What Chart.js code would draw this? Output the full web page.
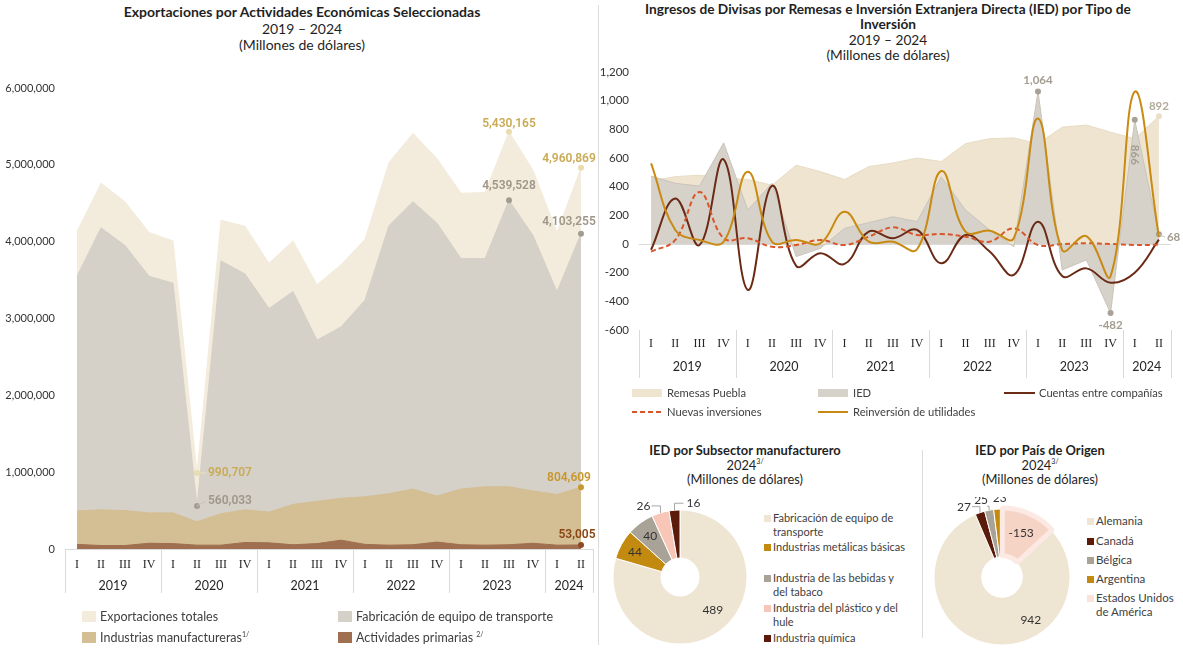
<!DOCTYPE html>
<html lang="es">
<head>
<meta charset="utf-8">
<title>Exportaciones, remesas e IED</title>
<script src="https://cdn.jsdelivr.net/npm/chart.js@4.4.1/dist/chart.umd.min.js"></script>
<style>
  html, body { margin: 0; padding: 0; background: #fff; }
  body { position: relative; width: 1183px; height: 648px; overflow: hidden; font-family: Lato, 'Open Sans', sans-serif; color: #1f1f1f; }
  canvas { position: absolute; }
  .title { position: absolute; text-align: center; font-size: 14px; line-height: 16.5px; }
  .title.small { font-size: 12.9px; line-height: 14.5px; }
  .title sup, .leg sup { font-size: 7px; line-height: 7px; vertical-align: top; position: relative; top: 0px; }
  .leg { position: absolute; font-size: 12.5px; line-height: 14px; color: #404040; white-space: nowrap; }
  .leg.s { font-size: 11.2px; line-height: 13.5px; }
  .leg.d { font-size: 11px; line-height: 13.5px; }
  .leg.p { font-size: 11.5px; line-height: 14px; }
  .sw { display: inline-block; vertical-align: middle; position: relative; top: -1px; }
  .vline { position: absolute; width: 1px; background: #dcdcdc; }
</style>
</head>
<body>

<div class="title" style="left:0;top:4px;width:604px;"><b>Exportaciones por Actividades Económicas Seleccionadas</b><br>2019 – 2024<br>(Millones de dólares)</div>
<div class="title" style="left:598px;top:1px;width:580px;line-height:15.3px;font-size:13.7px;"><b>Ingresos de Divisas por Remesas e Inversión Extranjera Directa (IED) por Tipo de<br>Inversión</b><br>2019 – 2024<br>(Millones de dólares)</div>
<div class="title small" style="left:600px;top:443px;width:290px;"><b>IED por Subsector manufacturero</b><br>2024<sup>3/</sup><br>(Millones de dólares)</div>
<div class="title small" style="left:925px;top:443px;width:230px;"><b>IED por País de Origen</b><br>2024<sup>3/</sup><br>(Millones de dólares)</div>

<div class="vline" style="left:598px;top:5px;height:640px;"></div>
<div class="vline" style="left:922px;top:450px;height:188px;"></div>

<canvas id="expChart" width="598" height="648" style="left:0;top:0;"></canvas>
<canvas id="divChart" width="585" height="440" style="left:598px;top:0;"></canvas>
<canvas id="subChart" width="160" height="151" style="left:600px;top:497px;"></canvas>
<canvas id="paisChart" width="160" height="151" style="left:922px;top:497px;"></canvas>

<!-- leyenda exportaciones -->
<div class="leg" style="left:82px;top:610px;"><span class="sw" style="width:14px;height:11px;background:#f3ebdc;margin-right:4px"></span>Exportaciones totales</div>
<div class="leg" style="left:338px;top:610px;"><span class="sw" style="width:14px;height:11px;background:#d5d1c8;margin-right:4px"></span>Fabricación de equipo de transporte</div>
<div class="leg" style="left:82px;top:631px;"><span class="sw" style="width:14px;height:11px;background:#d4be94;margin-right:4px"></span>Industrias manufactureras<sup>1/</sup></div>
<div class="leg" style="left:338px;top:631px;"><span class="sw" style="width:14px;height:11px;background:#a06f50;margin-right:4px"></span>Actividades primarias <sup>2/</sup></div>

<!-- leyenda divisas -->
<div class="leg s" style="left:632px;top:386px;"><span class="sw" style="width:30px;height:8px;background:#efe4cf;margin-right:5px"></span>Remesas Puebla</div>
<div class="leg s" style="left:818px;top:386px;"><span class="sw" style="width:30px;height:8px;background:#d6d2ca;margin-right:5px"></span>IED</div>
<div class="leg s" style="left:1004px;top:386px;"><span class="sw" style="width:31px;height:2px;background:#6b2a15;margin-right:4px"></span>Cuentas entre compañías</div>
<div class="leg s" style="left:632px;top:405px;"><span class="sw" style="width:30px;height:2px;background:repeating-linear-gradient(90deg,#d9562a 0 5px,transparent 5px 8px);margin-right:5px"></span>Nuevas inversiones</div>
<div class="leg s" style="left:818px;top:405px;"><span class="sw" style="width:30px;height:2px;background:#c88a12;margin-right:5px"></span>Reinversión de utilidades</div>

<!-- leyenda subsector -->
<div class="leg d" style="left:764px;top:511px;"><span class="sw" style="width:7px;height:7px;background:#efe5d3;margin-right:2px"></span>Fabricación de equipo de<br><span style="margin-left:9px">transporte</span></div>
<div class="leg d" style="left:764px;top:540px;"><span class="sw" style="width:7px;height:7px;background:#c38a10;margin-right:2px"></span>Industrias metálicas básicas</div>
<div class="leg d" style="left:764px;top:571px;"><span class="sw" style="width:7px;height:7px;background:#a9a296;margin-right:2px"></span>Industria de las bebidas y<br><span style="margin-left:9px">del tabaco</span></div>
<div class="leg d" style="left:764px;top:601px;"><span class="sw" style="width:7px;height:7px;background:#f8c6b7;margin-right:2px"></span>Industria del plástico y del<br><span style="margin-left:9px">hule</span></div>
<div class="leg d" style="left:764px;top:631px;"><span class="sw" style="width:7px;height:7px;background:#5b1a0a;margin-right:2px"></span>Industria química</div>

<!-- leyenda país -->
<div class="leg p" style="left:1087px;top:514px;"><span class="sw" style="width:7px;height:7px;background:#efe5d3;margin-right:2px"></span>Alemania</div>
<div class="leg p" style="left:1087px;top:534px;"><span class="sw" style="width:7px;height:7px;background:#5b1a0a;margin-right:2px"></span>Canadá</div>
<div class="leg p" style="left:1087px;top:553px;"><span class="sw" style="width:7px;height:7px;background:#a9a296;margin-right:2px"></span>Bélgica</div>
<div class="leg p" style="left:1087px;top:572px;"><span class="sw" style="width:7px;height:7px;background:#c38a10;margin-right:2px"></span>Argentina</div>
<div class="leg p" style="left:1087px;top:591px;"><span class="sw" style="width:7px;height:7px;background:#fbe3dc;margin-right:2px"></span>Estados Unidos<br><span style="margin-left:9px">de América</span></div>

<script>
// trimestres 2019-I a 2024-II
const quarters = ['I','II','III','IV','I','II','III','IV','I','II','III','IV','I','II','III','IV','I','II','III','IV','I','II'];
const years = ['2019','2020','2021','2022','2023','2024'];
const quartersPerYear = [4, 4, 4, 4, 4, 2];

// exportaciones (miles de dólares, como en la fuente)
const exportTotal = [4130000, 4760000, 4520000, 4120000, 4010000, 990707, 4280000, 4200000, 3720000, 4010000, 3440000, 3700000, 4030000, 5030000, 5410000, 5080000, 4630000, 4640000, 5430165, 4930000, 4120000, 4960869];
const exportTransport = [3550000, 4180000, 3950000, 3550000, 3460000, 560033, 3750000, 3580000, 3130000, 3350000, 2720000, 2890000, 3240000, 4210000, 4520000, 4240000, 3780000, 3780000, 4539528, 4080000, 3350000, 4103255];
const exportManuf = [495000, 510000, 500000, 470000, 470000, 355000, 460000, 510000, 480000, 580000, 620000, 660000, 680000, 720000, 780000, 690000, 780000, 810000, 810000, 755000, 710000, 804609];
const exportPrimary = [60000, 45000, 45000, 75000, 70000, 50000, 50000, 85000, 80000, 55000, 70000, 115000, 60000, 50000, 55000, 90000, 55000, 50000, 55000, 75000, 50000, 53005];

// remesas e IED (millones de dólares)
const remesas = [440, 470, 480, 460, 450, 410, 550, 505, 450, 540, 565, 600, 575, 700, 735, 740, 700, 815, 830, 780, 735, 892];
const ied = [474, 423, 404, 706, 237, 423, -88, -30, 109, 149, 190, 156, 469, 237, 98, -19, 1064, -181, -111, -482, 866, 68];
const cuentas = [-40, 318, -7, 590, -320, 406, -153, -65, -139, 86, 40, 98, -135, 63, -53, -216, 156, -223, -170, -270, -200, 30];
const nuevas = [-53, 28, 362, 40, 40, -19, -7, 28, -7, 51, 116, 63, 70, 51, 16, 109, -7, 0, 5, 0, -7, -5];
const reinversion = [562, 98, 28, 16, 504, 16, 28, 5, 225, 16, 16, -37, 509, 86, 93, 40, 876, -42, 55, -225, 1062, 50];

// IED 2024
const subsectorLabels = ['Fabricación de equipo de transporte', 'Industrias metálicas básicas', 'Industria de las bebidas y del tabaco', 'Industria del plástico y del hule', 'Industria química'];
const subsectorValues = [489, 44, 40, 26, 16];
const paisLabels = ['Alemania', 'Canadá', 'Bélgica', 'Argentina', 'Estados Unidos de América'];
const paisValues = [942, 27, 25, 23, -153];

Chart.defaults.font.family = 'Lato, "Open Sans", sans-serif';
Chart.defaults.color = '#404040';
Chart.defaults.animation = false;

const fmt = v => Number(v).toLocaleString('en-US');

// eje de trimestres con años agrupados
const quarterAxis = {
  id: 'quarterAxis',
  afterDraw(chart, args, opts) {
    const { ctx, chartArea: a, scales: { x } } = chart;
    const half = (x.getPixelForValue(1) - x.getPixelForValue(0)) / 2;
    const sep = px => {
      const p = Math.round(px) + 0.5;
      ctx.beginPath(); ctx.moveTo(p, a.bottom); ctx.lineTo(p, a.bottom + opts.sepLength); ctx.stroke();
    };
    ctx.save();
    ctx.strokeStyle = '#d9d9d9';
    ctx.lineWidth = 1;
    if (opts.axisLine) {
      ctx.beginPath(); ctx.moveTo(a.left, Math.round(a.bottom) + 0.5); ctx.lineTo(a.right, Math.round(a.bottom) + 0.5); ctx.stroke();
    }
    ctx.fillStyle = '#262626';
    ctx.textAlign = 'center';
    ctx.textBaseline = 'middle';
    ctx.font = '12px "Liberation Serif", serif';
    quarters.forEach((q, i) => ctx.fillText(q, x.getPixelForValue(i), a.bottom + opts.quarterGap));
    ctx.font = '12.5px Lato, sans-serif';
    sep(x.getPixelForValue(0) - half);
    let start = 0;
    years.forEach((yr, k) => {
      const n = quartersPerYear[k];
      const x0 = x.getPixelForValue(start) - half;
      const x1 = x.getPixelForValue(start + n - 1) + half;
      ctx.fillText(yr, (x0 + x1) / 2, a.bottom + opts.yearGap);
      sep(x1);
      start += n;
    });
    ctx.restore();
  }
};

// etiquetas de valores sobre puntos
const pointLabels = {
  id: 'pointLabels',
  afterDatasetsDraw(chart, args, opts) {
    const { ctx } = chart;
    ctx.save();
    ctx.font = opts.font;
    ctx.textBaseline = 'middle';
    (opts.items || []).forEach(it => {
      const pt = chart.getDatasetMeta(it.ds).data[it.i];
      const text = fmt(chart.data.datasets[it.ds].data[it.i]);
      const tx = pt.x + (it.dx || 0), ty = pt.y + (it.dy || 0);
      ctx.fillStyle = it.color;
      if (it.leader) {
        ctx.strokeStyle = it.leaderColor || it.color;
        ctx.lineWidth = 1;
        ctx.beginPath(); ctx.moveTo(pt.x, pt.y); ctx.lineTo(tx - 2, ty); ctx.stroke();
      }
      ctx.textAlign = it.align || 'center';
      if (it.rotate) {
        ctx.translate(tx, ty); ctx.rotate(it.rotate);
        ctx.fillText(text, 0, 0);
        ctx.setTransform(1, 0, 0, 1, 0, 0);
      } else {
        ctx.fillText(text, tx, ty);
      }
    });
    ctx.restore();
  }
};

// etiquetas de las donas
const donutLabels = {
  id: 'donutLabels',
  afterDatasetsDraw(chart, args, opts) {
    const { ctx } = chart;
    const values = chart.data.datasets[0].data;
    ctx.save();
    ctx.font = '12px Lato, sans-serif';
    ctx.fillStyle = '#333';
    ctx.textAlign = 'center';
    ctx.textBaseline = 'middle';
    chart.getDatasetMeta(0).data.forEach((arc, i) => {
      const mid = (arc.startAngle + arc.endAngle) / 2;
      const inn = (opts.inside || {})[i];
      const out = (opts.outside || {})[i];
      if (inn) {
        const r = arc.innerRadius + (arc.outerRadius - arc.innerRadius) * inn.f;
        ctx.fillText(String(values[i]), arc.x + Math.cos(mid) * r + (inn.dx || 0), arc.y + Math.sin(mid) * r + (inn.dy || 0));
      } else if (out) {
        const px = arc.x + Math.cos(mid) * arc.outerRadius;
        const py = arc.y + Math.sin(mid) * arc.outerRadius;
        const ey = py - out.up, ex = px + out.side;
        if (out.up || out.side) {
          ctx.strokeStyle = '#a6a6a6';
          ctx.lineWidth = 1;
          ctx.beginPath(); ctx.moveTo(px, py); ctx.lineTo(px, ey); ctx.lineTo(ex, ey); ctx.stroke();
        }
        ctx.fillText(String(values[i]), ex + out.tx, ey + (out.ty || 0));
      }
    });
    ctx.restore();
  }
};

const marks = idx => ctx => idx.includes(ctx.dataIndex) ? 3 : 0;

new Chart(document.getElementById('expChart'), {
  type: 'line',
  data: {
    labels: quarters,
    datasets: [
      { label: 'Exportaciones totales', data: exportTotal, fill: 'origin', backgroundColor: '#f3ebdc', borderColor: '#f3ebdc', borderWidth: 1, tension: 0, order: 4, pointRadius: marks([5, 18, 21]), pointBackgroundColor: '#e9dcae', pointBorderWidth: 0 },
      { label: 'Fabricación de equipo de transporte', data: exportTransport, fill: 'origin', backgroundColor: '#d5d1c8', borderColor: '#d5d1c8', borderWidth: 1, tension: 0, order: 3, pointRadius: marks([5, 18, 21]), pointBackgroundColor: '#a39d91', pointBorderWidth: 0 },
      { label: 'Industrias manufactureras', data: exportManuf, fill: 'origin', backgroundColor: '#d4be94', borderColor: '#d4be94', borderWidth: 1, tension: 0, order: 2, pointRadius: marks([21]), pointBackgroundColor: '#c9972e', pointBorderWidth: 0 },
      { label: 'Actividades primarias', data: exportPrimary, fill: 'origin', backgroundColor: '#a06f50', borderColor: '#a06f50', borderWidth: 1, tension: 0, order: 1, pointRadius: marks([21]), pointBackgroundColor: '#8b4a24', pointBorderWidth: 0 }
    ]
  },
  options: {
    responsive: false,
    layout: { padding: { top: 88, right: 5, bottom: 99, left: 0 } },
    plugins: {
      legend: { display: false },
      tooltip: { enabled: false },
      quarterAxis: { axisLine: true, sepLength: 44, quarterGap: 16, yearGap: 37 },
      pointLabels: {
        font: '600 12px Roboto, sans-serif',
        items: [
          { ds: 0, i: 18, dy: -8, color: '#c9ab55' },
          { ds: 1, i: 18, dy: -14, color: '#9e978a' },
          { ds: 0, i: 21, dx: -12, dy: -9, color: '#c9ab55' },
          { ds: 1, i: 21, dx: -12, dy: -12, color: '#9e978a' },
          { ds: 0, i: 5, align: 'left', dx: 11, dy: 0, color: '#c9ab55', leader: true, leaderColor: '#eadfb8' },
          { ds: 1, i: 5, align: 'left', dx: 11, dy: -5, color: '#9e978a', leader: true, leaderColor: '#c8c3b9' },
          { ds: 2, i: 21, dx: -12, dy: -9, color: '#c8962c' },
          { ds: 3, i: 21, dx: -4, dy: -10, color: '#8b4513' }
        ]
      }
    },
    scales: {
      x: { display: false, offset: true },
      y: {
        min: 0, max: 6000000,
        grid: { display: false, drawTicks: false },
        border: { display: false },
        ticks: { stepSize: 1000000, padding: 10, callback: v => fmt(v), font: { size: 11 }, color: '#333' },
        afterFit: s => { s.width = 65; }
      }
    }
  },
  plugins: [quarterAxis, pointLabels]
});

new Chart(document.getElementById('divChart'), {
  type: 'line',
  data: {
    labels: quarters,
    datasets: [
      { label: 'Remesas Puebla', data: remesas, fill: 'origin', backgroundColor: '#efe4cf', borderColor: '#e7dbc4', borderWidth: 1, tension: 0, order: 5, pointRadius: marks([21]), pointBackgroundColor: '#e9dfc9', pointBorderWidth: 0 },
      { label: 'IED', data: ied, fill: 'origin', backgroundColor: '#d6d2ca', borderColor: '#c9c4bb', borderWidth: 1, tension: 0, order: 4, pointRadius: marks([16, 19, 20, 21]), pointBackgroundColor: '#a8a296', pointBorderWidth: 0 },
      { label: 'Cuentas entre compañías', data: cuentas, fill: false, borderColor: '#6b2a15', borderWidth: 2, tension: 0.4, order: 3, pointRadius: 0 },
      { label: 'Nuevas inversiones', data: nuevas, fill: false, borderColor: '#d9562a', borderWidth: 2, borderDash: [5, 3], tension: 0.4, order: 2, pointRadius: 0 },
      { label: 'Reinversión de utilidades', data: reinversion, fill: false, borderColor: '#c88a12', borderWidth: 2, tension: 0.4, order: 1, pointRadius: 0 }
    ]
  },
  options: {
    responsive: false,
    layout: { padding: { top: 72, right: 12, bottom: 110, left: 0 } },
    plugins: {
      legend: { display: false },
      tooltip: { enabled: false },
      quarterAxis: { axisLine: false, sepLength: 48, quarterGap: 14, yearGap: 37 },
      pointLabels: {
        font: '700 11.5px Lato, sans-serif',
        items: [
          { ds: 1, i: 16, dy: -11, color: '#a39d90' },
          { ds: 1, i: 20, dy: 35, color: '#a39d90', rotate: Math.PI / 2 },
          { ds: 0, i: 21, dx: 0, dy: -10, color: '#b3ab9b' },
          { ds: 1, i: 19, dy: 12, color: '#a39d90' },
          { ds: 1, i: 21, align: 'left', dx: 8, dy: 3, color: '#a39d90', leader: true, leaderColor: '#c9c4bb' }
        ]
      }
    },
    scales: {
      x: { display: false, offset: true },
      y: {
        min: -600, max: 1200,
        grid: { drawTicks: false, color: c => c.tick.value === 0 ? '#dadada' : 'rgba(0,0,0,0)' },
        border: { display: false },
        ticks: { stepSize: 200, padding: 10, callback: v => fmt(v), font: { size: 11.5 }, color: '#333' },
        afterFit: s => { s.width = 41; }
      }
    }
  },
  plugins: [quarterAxis, pointLabels]
});

new Chart(document.getElementById('subChart'), {
  type: 'doughnut',
  data: {
    labels: subsectorLabels,
    datasets: [{ data: subsectorValues, backgroundColor: ['#efe5d3', '#c38a10', '#a9a296', '#f8c6b7', '#5b1a0a'], borderColor: '#fff', borderWidth: 1 }]
  },
  options: {
    responsive: false,
    radius: 67,
    cutout: 20,
    layout: { padding: { top: 9 } },
    plugins: {
      legend: { display: false },
      tooltip: { enabled: false },
      donutLabels: {
        inside: { 0: { f: 0.57, dx: 5, dy: -4 }, 1: { f: 0.68 }, 2: { f: 0.65 } },
        outside: { 3: { up: 7, side: -9, tx: -8 }, 4: { up: 7, side: 9, tx: 10 } }
      }
    }
  },
  plugins: [donutLabels]
});

const paisTotal = paisValues.reduce((s, v) => s + Math.abs(v), 0);
new Chart(document.getElementById('paisChart'), {
  type: 'doughnut',
  data: {
    labels: paisLabels,
    datasets: [{
      data: paisValues,
      backgroundColor: ['#efe5d3', '#5b1a0a', '#a9a296', '#c38a10', '#f5d4c6'],
      borderColor: ['#fff', '#fff', '#fff', '#fff', '#fce9e4'],
      borderWidth: [1, 1, 1, 1, 5],
      offset: [0, 0, 0, 0, 3]
    }]
  },
  options: {
    responsive: false,
    radius: 68,
    cutout: 20,
    rotation: Math.abs(paisValues[paisValues.length - 1]) / paisTotal * 360,
    layout: { padding: { top: 9 } },
    plugins: {
      legend: { display: false },
      tooltip: { enabled: false },
      donutLabels: {
        inside: { 0: { f: 0.6, dx: 39, dy: -5 }, 4: { f: 0.58 } },
        outside: { 1: { up: 6, side: -8, tx: -8 }, 2: { up: 4, side: -2, tx: -6, ty: -6 }, 3: { up: 0, side: 0, tx: 2, ty: -11 } }
      }
    }
  },
  plugins: [donutLabels]
});
</script>
</body>
</html>
